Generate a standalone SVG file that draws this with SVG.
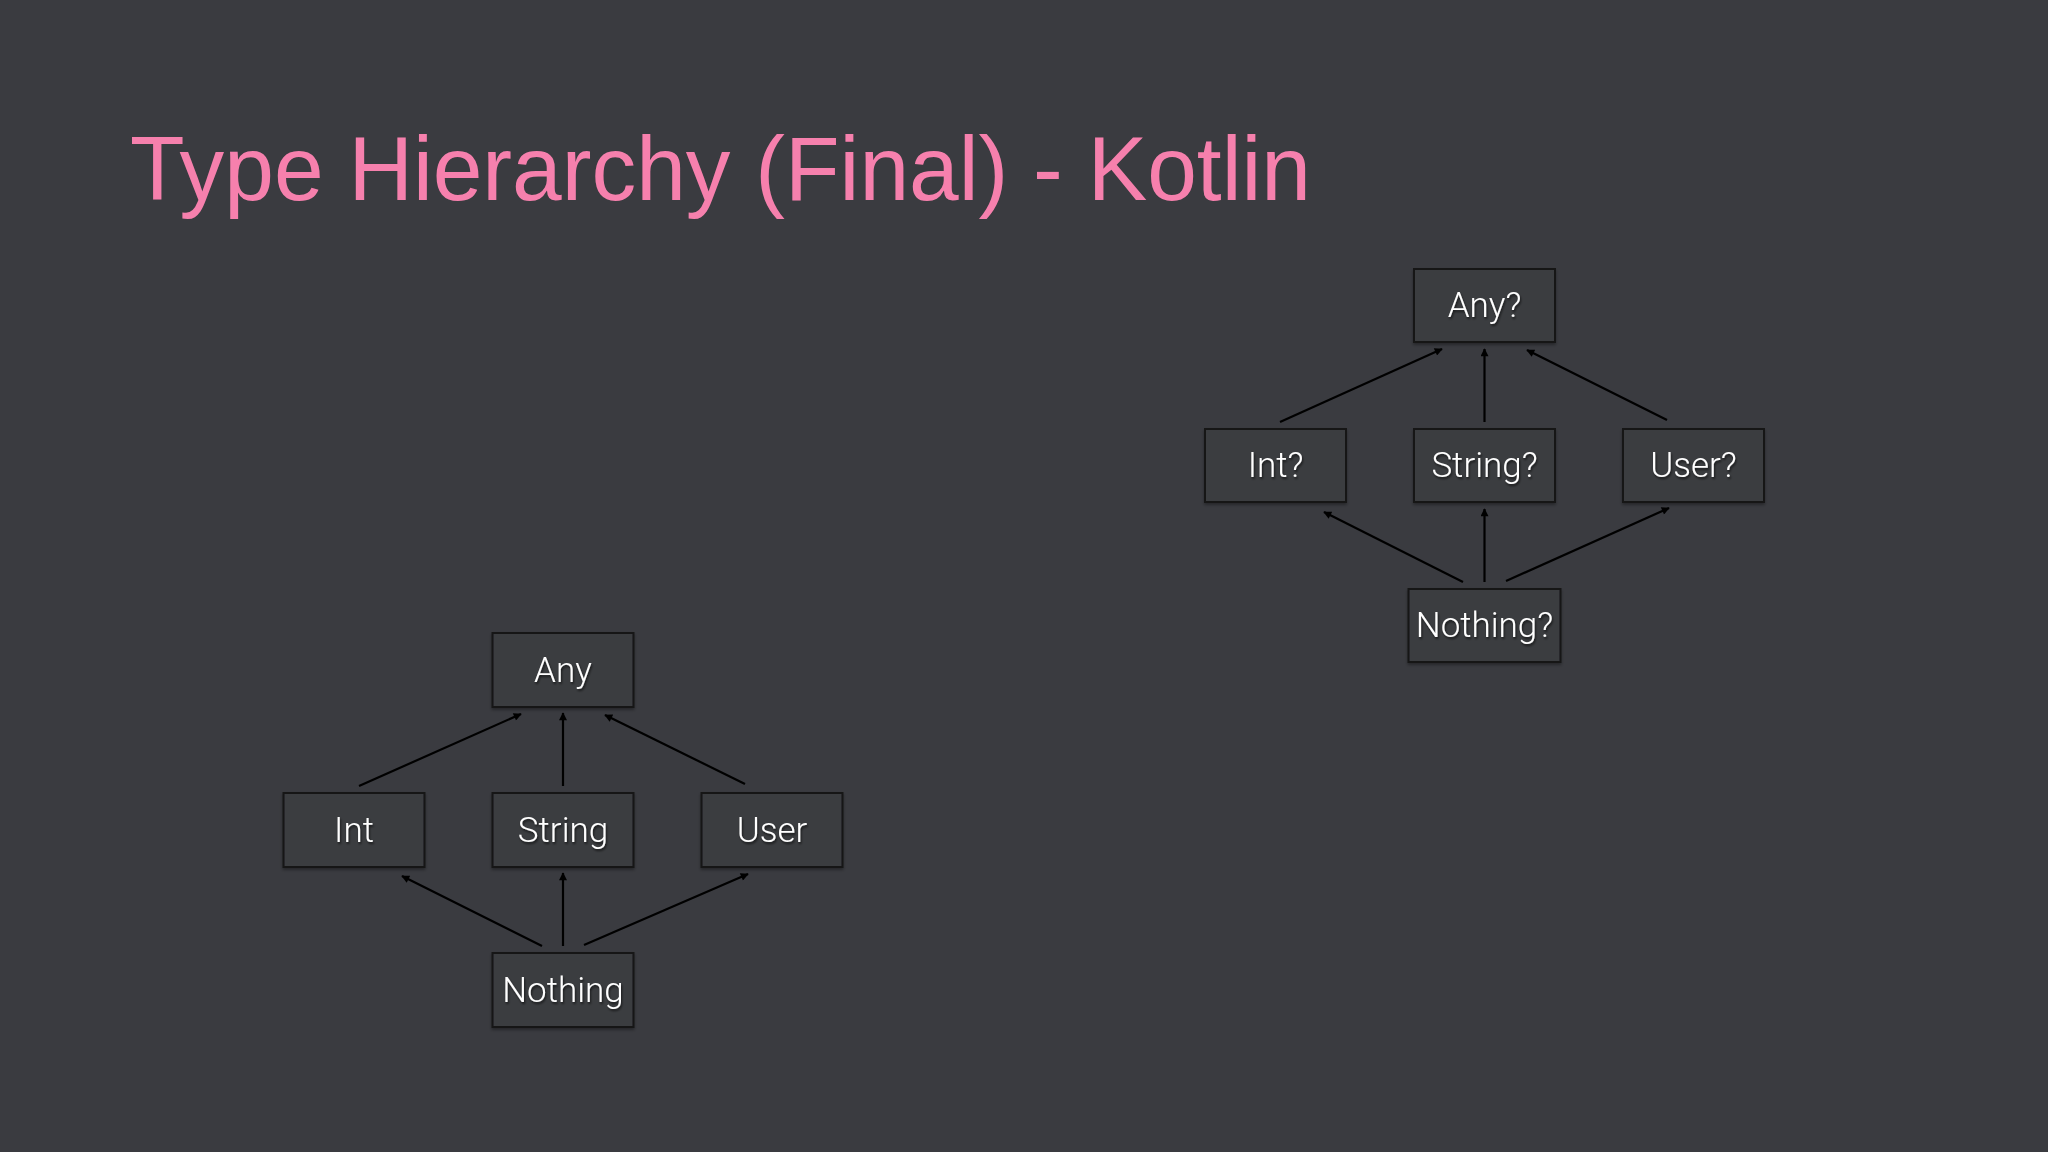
<svg xmlns="http://www.w3.org/2000/svg" width="2048" height="1152" viewBox="0 0 2048 1152">
<defs>
<marker id="ah" viewBox="0 0 10 10" refX="9" refY="5" markerWidth="10" markerHeight="8" markerUnits="userSpaceOnUse" orient="auto">
<path d="M0,0 L10,5 L0,10 Z" fill="#000"/>
</marker>
<filter id="ts" x="-20%" y="-20%" width="140%" height="150%">
<feDropShadow dx="1" dy="2" stdDeviation="1.2" flood-color="#000" flood-opacity="0.6"/>
</filter>
<filter id="bs" x="-10%" y="-10%" width="120%" height="130%">
<feDropShadow dx="0" dy="2" stdDeviation="1.5" flood-color="#000" flood-opacity="0.35"/>
</filter>
</defs>
<style>
.box{fill:#3b3c41;stroke:#151515;stroke-width:2;filter:url(#bs)}
.lbl{font-family:"Roboto","Liberation Sans",Arial,sans-serif;font-weight:300;font-size:35px;fill:#ffffff;text-anchor:middle;filter:url(#ts)}
.edge{stroke:#000;stroke-width:2.2;fill:none;marker-end:url(#ah)}
.title{font-family:"Liberation Sans",Arial,sans-serif;font-size:90px;fill:#f680ad}
</style>
<rect x="0" y="0" width="2048" height="1152" fill="#3a3b40"/>
<text class="title" x="130" y="200" textLength="1181" lengthAdjust="spacingAndGlyphs">Type Hierarchy (Final) - Kotlin</text>

<g id="connectors">
<line class="edge" x1="359" y1="786" x2="521" y2="714"/>
<line class="edge" x1="563" y1="786" x2="563" y2="713"/>
<line class="edge" x1="745" y1="784" x2="605" y2="715"/>
<line class="edge" x1="542" y1="946" x2="402" y2="876"/>
<line class="edge" x1="563" y1="946" x2="563" y2="873"/>
<line class="edge" x1="584" y1="945" x2="748" y2="874"/>

<line class="edge" x1="1280" y1="422" x2="1442" y2="349"/>
<line class="edge" x1="1484.5" y1="422" x2="1484.5" y2="349"/>
<line class="edge" x1="1667" y1="420" x2="1527" y2="350"/>
<line class="edge" x1="1463" y1="582" x2="1324" y2="512"/>
<line class="edge" x1="1484.5" y1="582" x2="1484.5" y2="509"/>
<line class="edge" x1="1506" y1="581" x2="1669" y2="508"/>
</g>

<g id="node-any"><rect class="box" x="492.5" y="633" width="141" height="74"/><text class="lbl" x="563" y="682">Any</text></g>
<g id="node-int"><rect class="box" x="283.5" y="793" width="141" height="74"/><text class="lbl" x="354" y="842">Int</text></g>
<g id="node-string"><rect class="box" x="492.5" y="793" width="141" height="74"/><text class="lbl" x="563" y="842">String</text></g>
<g id="node-user"><rect class="box" x="701.5" y="793" width="141" height="74"/><text class="lbl" x="772" y="842">User</text></g>
<g id="node-nothing"><rect class="box" x="492.5" y="953" width="141" height="74"/><text class="lbl" x="563" y="1002">Nothing</text></g>

<g id="node-any-q"><rect class="box" x="1414" y="269" width="141" height="73"/><text class="lbl" x="1484.5" y="317">Any?</text></g>
<g id="node-int-q"><rect class="box" x="1205" y="429" width="141" height="73"/><text class="lbl" x="1275.5" y="477">Int?</text></g>
<g id="node-string-q"><rect class="box" x="1414" y="429" width="141" height="73"/><text class="lbl" x="1484.5" y="477">String?</text></g>
<g id="node-user-q"><rect class="box" x="1623" y="429" width="141" height="73"/><text class="lbl" x="1693.5" y="477">User?</text></g>
<g id="node-nothing-q"><rect class="box" x="1408.5" y="589" width="152" height="73"/><text class="lbl" x="1484.5" y="637">Nothing?</text></g>
</svg>
